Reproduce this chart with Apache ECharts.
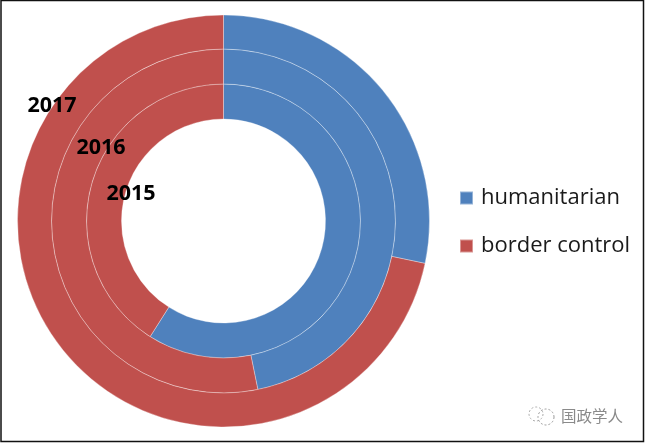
<!DOCTYPE html>
<html>
<head>
<meta charset="utf-8">
<title>humanitarian vs border control</title>
<style>
  html, body { margin: 0; padding: 0; background: #fff; }
  #chart { width: 645px; height: 443px; }
</style>
<script src="https://cdn.jsdelivr.net/npm/echarts@6/dist/echarts.min.js"></script>
</head>
<body>
<div id="chart"></div>
<script>
const years = ['2015', '2016', '2017']
const categories = ['humanitarian', 'border control']
const humanitarian = [59, 46.8, 28.3]
const borderControl = [41, 53.2, 71.7]

const ringRadius = [[102, 137], [137, 172], [172, 206]]
const labelPos = [[131, 194], [101, 148], [52, 106]]
const center = [223.5, 221]
const colors = ['#4F81BD', '#C0504D']

const chart = echarts.init(document.getElementById('chart'), null, { renderer: 'canvas' })

const series = years.map((year, i) => ({
  name: year,
  type: 'pie',
  center: center,
  radius: ringRadius[i],
  startAngle: 90,
  clockwise: true,
  silent: true,
  animation: false,
  label: { show: false },
  labelLine: { show: false },
  itemStyle: { borderColor: 'rgba(255,255,255,0.4)', borderWidth: 0.8 },
  data: [
    { name: categories[0], value: humanitarian[i] },
    { name: categories[1], value: borderControl[i] }
  ]
}))

// 年份标签和水印
const yearLabels = years.map((year, i) => ({
  type: 'text',
  x: labelPos[i][0],
  y: labelPos[i][1],
  z: 10,
  style: {
    text: year,
    fill: '#000',
    font: 'bold 21.5px "Open Sans", sans-serif',
    textAlign: 'center',
    textVerticalAlign: 'middle'
  }
}))

chart.setOption({
  color: colors,
  animation: false,
  legend: {
    orient: 'vertical',
    left: 454,
    top: 182,
    data: categories,
    icon: 'rect',
    itemWidth: 13,
    itemHeight: 13,
    itemGap: 26,
    selectedMode: false,
    textStyle: {
      color: '#1a1a1a',
      fontFamily: '"Open Sans", sans-serif',
      fontSize: 22,
      padding: [0, 0, 0, 3]
    }
  },
  series: series,
  graphic: [
    {
      type: 'rect',
      z: 20,
      shape: { x: 1, y: 0.5, width: 642.5, height: 441 },
      style: { fill: 'none', stroke: '#111', lineWidth: 1.5 }
    },
    ...yearLabels,
    {
      type: 'circle',
      shape: { cx: 536, cy: 414, r: 7 },
      style: { fill: 'none', stroke: '#aaa', lineWidth: 1, lineDash: [2, 2] }
    },
    {
      type: 'circle',
      shape: { cx: 546, cy: 417, r: 8 },
      style: { fill: 'none', stroke: '#999', lineWidth: 1, lineDash: [2, 2] }
    },
    {
      type: 'text',
      x: 561,
      y: 416,
      style: {
        text: '国政学人',
        fill: '#8a8a8a',
        font: '15.5px "Noto Sans CJK SC", sans-serif',
        textVerticalAlign: 'middle'
      }
    }
  ]
})
</script>
</body>
</html>
